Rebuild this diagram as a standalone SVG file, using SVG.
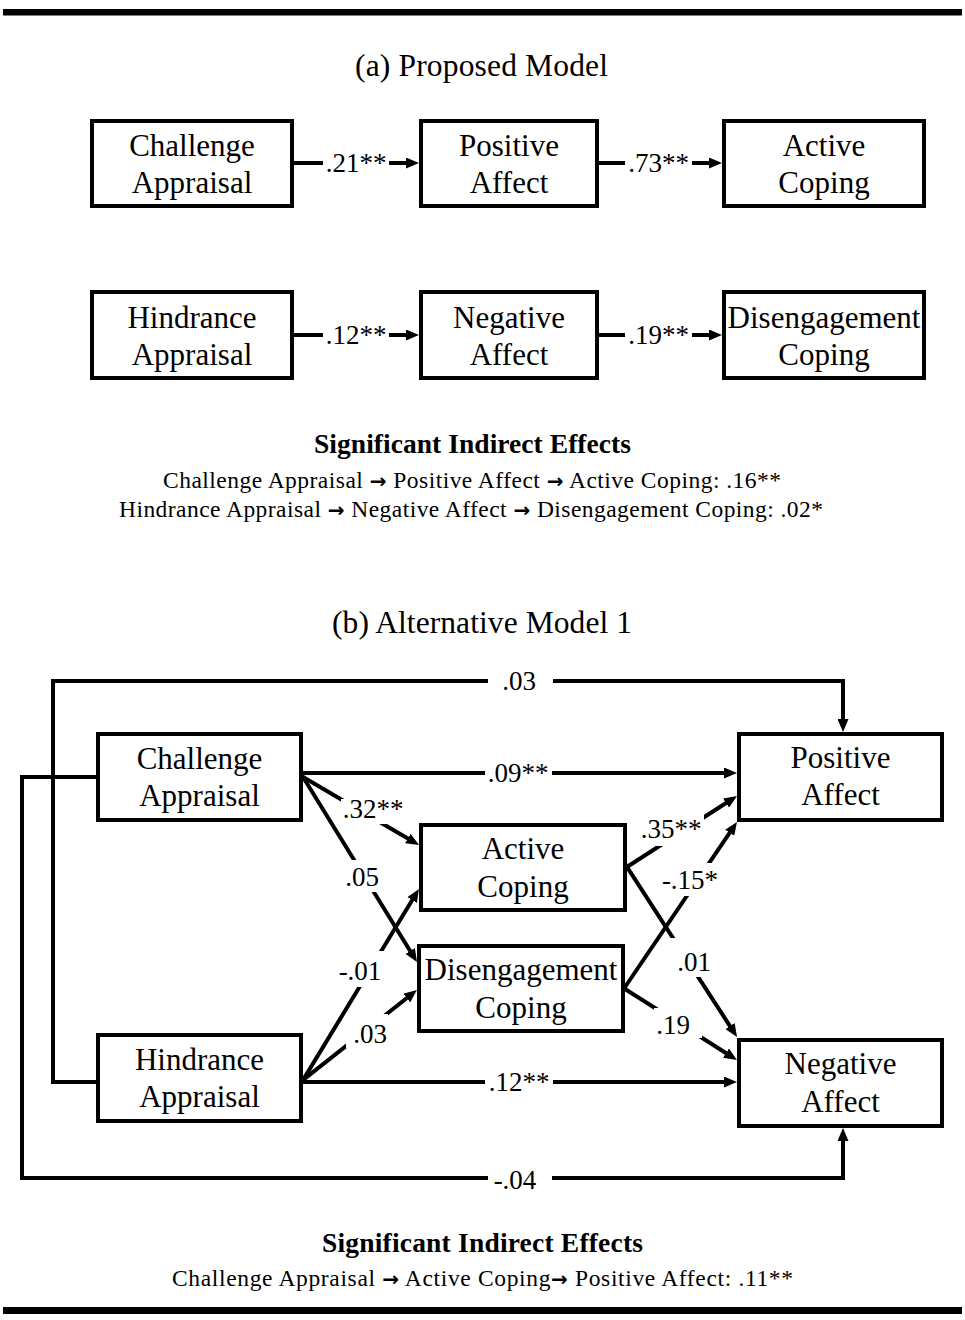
<svg xmlns="http://www.w3.org/2000/svg" width="965" height="1320" viewBox="0 0 965 1320">
<defs>
<style>
.bar{fill:#000}
.box{fill:#fff;stroke:#000;stroke-width:4}
.t{font-family:"Liberation Serif","Times New Roman",serif;font-size:31px;text-anchor:middle;fill:#000}
.title{font-family:"Liberation Serif","Times New Roman",serif;font-size:31.5px;fill:#000}
.bold{font-family:"Liberation Serif","Times New Roman",serif;font-size:27.5px;font-weight:bold;fill:#000}
.ind{font-family:"Liberation Serif","Times New Roman","DejaVu Serif",serif;font-size:23.5px;fill:#000}
.ar{font-family:"DejaVu Sans",sans-serif;font-weight:bold;font-size:20px}
.lbl{font-family:"Liberation Serif","Times New Roman",serif;font-size:27px;text-anchor:middle;fill:#000}
.conn{fill:none;stroke:#000;stroke-width:4}
.arr{marker-end:url(#ah)}
.gap{fill:#fff}
</style>
<marker id="ah" markerUnits="userSpaceOnUse" markerWidth="13" markerHeight="11" refX="5" refY="5.5" orient="auto"><path d="M0,0 L13,5.5 L0,11 z" fill="#000"/></marker>
</defs>
<rect width="965" height="1320" fill="#fff"/>
<rect class="bar" x="3" y="9" width="959" height="6.5"/>
<rect class="bar" x="3" y="1307" width="959" height="7"/>

<text class="title" x="355" y="76" textLength="253" lengthAdjust="spacing">(a) Proposed Model</text>
<text class="title" x="332" y="633" textLength="300" lengthAdjust="spacing">(b) Alternative Model 1</text>

<g id="connectors">
<path class="conn arr" d="M292,163 H411"/>
<path class="conn arr" d="M597,163 H714"/>
<path class="conn arr" d="M292,335 H411"/>
<path class="conn arr" d="M597,335 H714"/>
<path class="conn arr" d="M98,1082 H53 V681 H843 V724"/>
<path class="conn arr" d="M98,777 H22 V1178 H843 V1136"/>
<path class="conn arr" d="M301,773 H729"/>
<path class="conn arr" d="M301,1082 H729"/>
<path class="conn arr" d="M300,775.2 L412.1,841.0"/>
<path class="conn arr" d="M301,773.8 L412.8,955.2"/>
<path class="conn arr" d="M301,1083.4 L414.8,895.8"/>
<path class="conn arr" d="M300,1082.4 L410.7,995.0"/>
<path class="conn arr" d="M625,868.3 L730.3,800.3"/>
<path class="conn arr" d="M623,990 L732.5,828.6"/>
<path class="conn arr" d="M625,863.9 L732.7,1030.3"/>
<path class="conn arr" d="M623,987.7 L730.2,1055.7"/>
<rect class="gap" x="323" y="158" width="66" height="10"/>
<rect class="gap" x="625" y="158" width="67" height="10"/>
<rect class="gap" x="323" y="330" width="66" height="10"/>
<rect class="gap" x="625" y="330" width="67" height="10"/>
<rect class="gap" x="488" y="676" width="65" height="10"/>
<rect class="gap" x="488" y="1173" width="64" height="10"/>
<rect class="gap" x="485" y="768" width="67" height="10"/>
<rect class="gap" x="485" y="1077" width="68" height="10"/>
<rect class="gap" x="341" y="799" width="65" height="25"/>
<rect class="gap" x="345" y="860" width="37" height="32"/>
<rect class="gap" x="337" y="951" width="47" height="36"/>
<rect class="gap" x="346" y="1014" width="42" height="34"/>
<rect class="gap" x="640" y="815" width="64" height="31"/>
<rect class="gap" x="660" y="863" width="60" height="33"/>
<rect class="gap" x="670" y="938" width="42" height="39"/>
<rect class="gap" x="654" y="1008" width="48" height="30"/>
<text class="lbl" x="356" y="172">.21**</text>
<text class="lbl" x="658.5" y="172">.73**</text>
<text class="lbl" x="356" y="344">.12**</text>
<text class="lbl" x="658.5" y="344">.19**</text>
<text class="lbl" x="519" y="690">.03</text>
<text class="lbl" x="515" y="1189">-.04</text>
<text class="lbl" x="518" y="782">.09**</text>
<text class="lbl" x="519" y="1091">.12**</text>
<text class="lbl" x="373" y="818">.32**</text>
<text class="lbl" x="362" y="886">.05</text>
<text class="lbl" x="360" y="980">-.01</text>
<text class="lbl" x="370" y="1043">.03</text>
<text class="lbl" x="671" y="838">.35**</text>
<text class="lbl" x="690" y="889">-.15*</text>
<text class="lbl" x="694" y="971">.01</text>
<text class="lbl" x="673" y="1034">.19</text>
</g>

<g id="a-challenge"><rect class="box" x="92" y="121" width="200" height="85"/><text class="t" x="192" y="156">Challenge</text><text class="t" x="192" y="193">Appraisal</text></g>
<g id="a-positive"><rect class="box" x="421" y="121" width="176" height="85"/><text class="t" x="509" y="156">Positive</text><text class="t" x="509" y="193">Affect</text></g>
<g id="a-active"><rect class="box" x="724" y="121" width="200" height="85"/><text class="t" x="824" y="156">Active</text><text class="t" x="824" y="193">Coping</text></g>
<g id="a-hindrance"><rect class="box" x="92" y="292" width="200" height="86"/><text class="t" x="192" y="328">Hindrance</text><text class="t" x="192" y="365">Appraisal</text></g>
<g id="a-negative"><rect class="box" x="421" y="292" width="176" height="86"/><text class="t" x="509" y="328">Negative</text><text class="t" x="509" y="365">Affect</text></g>
<g id="a-disengagement"><rect class="box" x="724" y="292" width="200" height="86"/><text class="t" x="824" y="328">Disengagement</text><text class="t" x="824" y="365">Coping</text></g>

<g id="a-indirect">
<text class="bold" x="314" y="453" textLength="317" lengthAdjust="spacing">Significant Indirect Effects</text>
<text class="ind" x="163" y="488" textLength="618" lengthAdjust="spacing">Challenge Appraisal <tspan class="ar">→</tspan> Positive Affect <tspan class="ar">→</tspan> Active Coping:  .16**</text>
<text class="ind" x="119" y="517" textLength="704" lengthAdjust="spacing">Hindrance Appraisal <tspan class="ar">→</tspan> Negative Affect <tspan class="ar">→</tspan> Disengagement Coping:  .02*</text>
</g>

<g id="b-challenge"><rect class="box" x="98" y="734" width="203" height="86"/><text class="t" x="199.5" y="769">Challenge</text><text class="t" x="199.5" y="806">Appraisal</text></g>
<g id="b-hindrance"><rect class="box" x="98" y="1035" width="203" height="86"/><text class="t" x="199.5" y="1070">Hindrance</text><text class="t" x="199.5" y="1107">Appraisal</text></g>
<g id="b-positive"><rect class="box" x="739" y="734" width="203" height="86"/><text class="t" x="840.5" y="768">Positive</text><text class="t" x="840.5" y="805">Affect</text></g>
<g id="b-negative"><rect class="box" x="739" y="1040" width="203" height="86"/><text class="t" x="840.5" y="1074">Negative</text><text class="t" x="840.5" y="1112">Affect</text></g>
<g id="b-active"><rect class="box" x="421" y="825" width="204" height="85"/><text class="t" x="523" y="859">Active</text><text class="t" x="523" y="897">Coping</text></g>
<g id="b-disengagement"><rect class="box" x="419" y="946" width="204" height="85"/><text class="t" x="521" y="980">Disengagement</text><text class="t" x="521" y="1018">Coping</text></g>

<g id="b-indirect">
<text class="bold" x="322" y="1252" textLength="321" lengthAdjust="spacing">Significant Indirect Effects</text>
<text class="ind" x="172" y="1286" textLength="621" lengthAdjust="spacing">Challenge Appraisal <tspan class="ar">→</tspan> Active Coping<tspan class="ar">→</tspan> Positive Affect: .11**</text>
</g>
</svg>
